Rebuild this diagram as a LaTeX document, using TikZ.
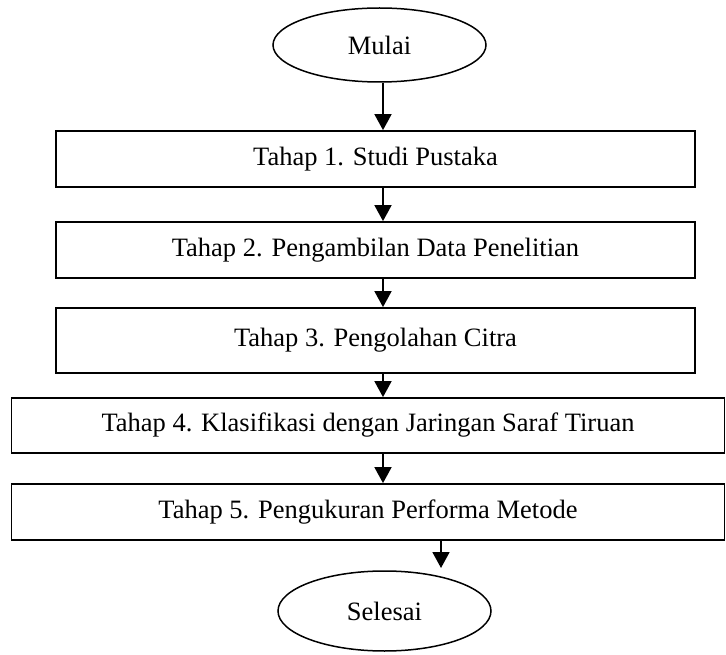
\documentclass[tikz,border=0pt]{standalone}
\usepackage{fontspec}
\setmainfont{Liberation Serif}
\usetikzlibrary{shapes.geometric,arrows.meta,calc}
\begin{document}
\begin{tikzpicture}[x=1pt,y=-1pt,
  every node/.style={font=\fontsize{26.5}{30}\selectfont},
  stepbox/.style={draw,line width=1.8pt,rectangle,inner sep=0pt},
  term/.style={draw,line width=1.5pt,ellipse,inner sep=0pt,minimum width=213pt},
  arr/.style={line width=1.8pt,-{Triangle[length=16pt,width=17pt]}}]
\useasboundingbox (0,0) rectangle (726,655);
\node[term,minimum height=74pt] (m) at (379.5,45) {Mulai};
\node[stepbox,minimum width=639pt,minimum height=56pt] (b1) at (375.5,159) {Tahap 1. Studi Pustaka};
\node[stepbox,minimum width=639pt,minimum height=56pt] (b2) at (375.5,250) {Tahap 2. Pengambilan Data Penelitian};
\node[stepbox,minimum width=639pt,minimum height=65pt] (b3) at (375.5,340.5) {Tahap 3. Pengolahan Citra};
\node[stepbox,minimum width=713pt,minimum height=55pt] (b4) at (368,425.5) {Tahap 4. Klasifikasi dengan Jaringan Saraf Tiruan};
\node[stepbox,minimum width=713pt,minimum height=56pt] (b5) at (368,512) {Tahap 5. Pengukuran Performa Metode};
\node[term,minimum height=80pt] (s) at (384.5,611) {Selesai};
\coordinate (ax) at (383,0);
\coordinate (bx) at (441,0);
\coordinate (se) at (441,568);
\draw[arr] (m.south -| ax) -- (b1.north -| ax);
\draw[arr] (b1.south -| ax) -- (b2.north -| ax);
\draw[arr] (b2.south -| ax) -- (b3.north -| ax);
\draw[arr] (b3.south -| ax) -- (b4.north -| ax);
\draw[arr] (b4.south -| ax) -- (b5.north -| ax);
\draw[arr] (b5.south -| bx) -- (se);
\end{tikzpicture}
\end{document}
